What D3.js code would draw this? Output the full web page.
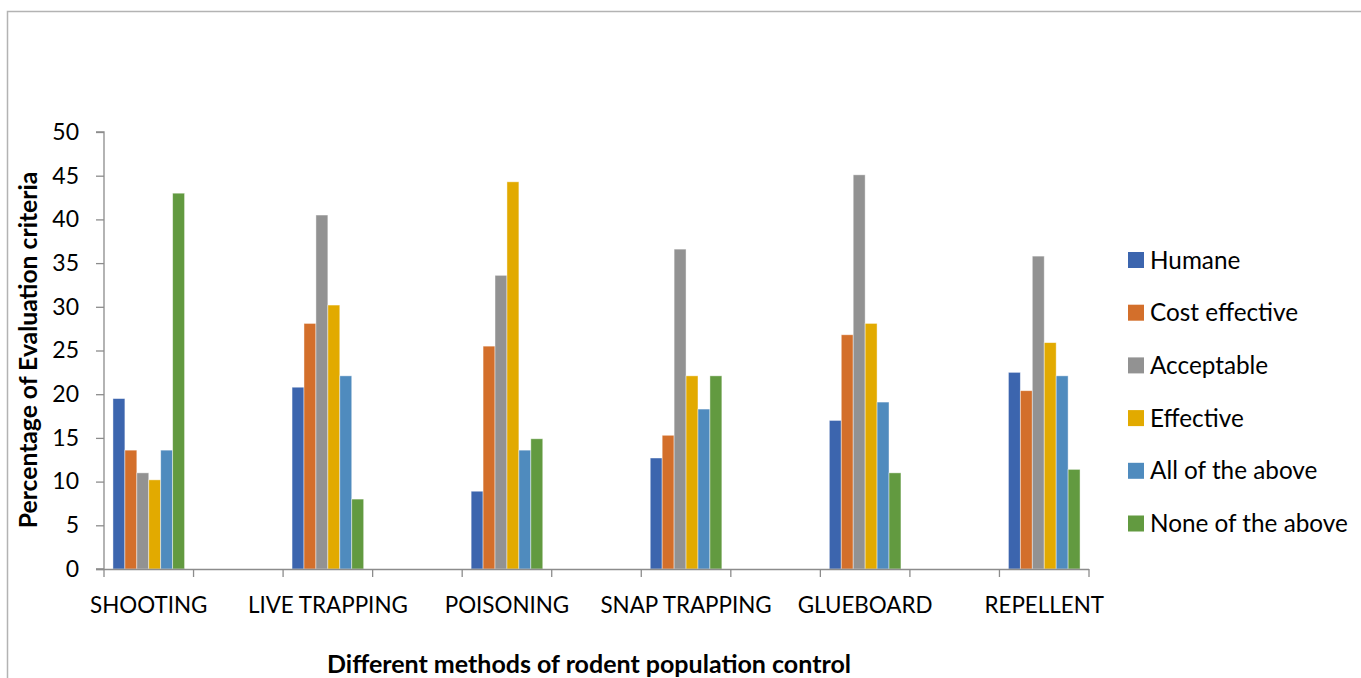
<!DOCTYPE html>
<html><head><meta charset="utf-8">
<script src="https://cdn.jsdelivr.net/npm/d3@7"></script>
<style>
html,body{margin:0;padding:0;background:#fff;}
svg{display:block;}
text{font-family:Lato,"Open Sans",sans-serif;fill:#000;}
</style></head>
<body>
<svg id="chart" width="1361" height="678"></svg>
<script>
// Category slots (Excel sheet had blank rows between methods)
const categories = ["SHOOTING", "", "LIVE TRAPPING", "", "POISONING", "", "SNAP TRAPPING", "", "GLUEBOARD", "", "REPELLENT"];
const seriesNames = ["Humane", "Cost effective", "Acceptable", "Effective", "All of the above", "None of the above"];
const seriesColors = ["#3C65AE", "#D36F2B", "#929292", "#E2AA00", "#4F8BBE", "#629A40"];
// values per category slot (null = blank row)
const humane     = [19.5, null, 20.8, null, 8.9,  null, 12.7, null, 17.0, null, 22.5];
const costEff    = [13.6, null, 28.1, null, 25.5, null, 15.3, null, 26.8, null, 20.4];
const acceptable = [11.0, null, 40.5, null, 33.6, null, 36.6, null, 45.1, null, 35.8];
const effective  = [10.2, null, 30.2, null, 44.3, null, 22.1, null, 28.1, null, 25.9];
const allAbove   = [13.6, null, 22.1, null, 13.6, null, 18.3, null, 19.1, null, 22.1];
const noneAbove  = [43.0, null, 8.0,  null, 14.9, null, 22.1, null, 11.0, null, 11.4];
const yTicks = [0, 5, 10, 15, 20, 25, 30, 35, 40, 45, 50];
const xTitle = "Different methods of rodent population control";
const yTitle = "Percentage of Evaluation criteria";

const seriesValues = [humane, costEff, acceptable, effective, allAbove, noneAbove];

const svg = d3.select("#chart");

// chart area frame
svg.append("path")
  .attr("d", "M7.5,678 L7.5,11.5 L1361,11.5")
  .attr("fill", "none").attr("stroke", "#b3b3b3").attr("stroke-width", 1.5);

const plot = {left: 104, right: 1089, top: 132, bottom: 569};

const x = d3.scaleBand().domain(d3.range(categories.length))
  .range([plot.left, plot.right]).paddingInner(0).paddingOuter(0);
const xs = d3.scaleBand().domain(d3.range(seriesNames.length))
  .range([0, x.bandwidth()]).paddingInner(0).paddingOuter(0.75);
const y = d3.scaleLinear().domain([0, 50]).range([plot.bottom, plot.top]);

// bars
const g = svg.append("g");
seriesValues.forEach((vals, si) => {
  g.selectAll(null)
    .data(vals.map((v, ci) => ({v, ci})).filter(d => d.v != null))
    .enter().append("rect")
    .attr("x", d => x(d.ci) + xs(si))
    .attr("width", xs.bandwidth())
    .attr("y", d => y(d.v))
    .attr("height", d => y(0) - y(d.v))
    .attr("fill", seriesColors[si])
    .attr("stroke", "rgba(255,255,255,0.55)")
    .attr("stroke-width", 0.8);
});

// Y axis
const yAxis = d3.axisLeft(y).tickValues(yTicks).tickSize(8).tickPadding(17).tickFormat(d3.format("d"));
const ya = svg.append("g").attr("transform", `translate(${plot.left},0)`).call(yAxis);
ya.select(".domain").attr("stroke", "#8c8c8c").attr("stroke-width", 1.3).attr("d", `M-8,${plot.bottom}H0V${plot.top}H-8`);
ya.selectAll(".tick line").attr("stroke", "#8c8c8c").attr("stroke-width", 1.3);
ya.selectAll(".tick text").style("font-size", "23px").style("font-family", "Lato").attr("fill", "#000");

// X axis (ticks at category boundaries)
const xa = svg.append("g").attr("transform", `translate(0,${plot.bottom})`);
xa.append("line").attr("x1", plot.left - 8).attr("x2", plot.right).attr("y1", 0.5).attr("y2", 0.5)
  .attr("stroke", "#8c8c8c").attr("stroke-width", 1.3);
const bounds = d3.range(categories.length).map(i => x(i)).concat([plot.right]);
xa.selectAll("line.tk").data(bounds).enter().append("line").attr("class", "tk")
  .attr("x1", d => d).attr("x2", d => d).attr("y1", 0).attr("y2", 8)
  .attr("stroke", "#8c8c8c").attr("stroke-width", 1.3);
const xAxis = d3.axisBottom(x).tickSize(0).tickPadding(0).tickFormat(i => categories[i]);
const xl = svg.append("g").attr("transform", `translate(0,${plot.bottom})`).call(xAxis);
xl.select(".domain").remove();
xl.selectAll(".tick text").attr("dy", null).attr("y", 44)
  .style("font-size", "22.4px").style("font-family", "Lato").attr("fill", "#000");

// axis titles
svg.append("text").attr("x", 589).attr("y", 673).attr("text-anchor", "middle")
  .style("font-size", "25px").style("font-weight", "bold").text(xTitle);
svg.append("text").attr("transform", "translate(37,350) rotate(-90)").attr("text-anchor", "middle")
  .style("font-size", "24.7px").style("font-weight", "bold").text(yTitle);

// legend
const legend = svg.append("g").attr("transform", "translate(1128,260)");
const lg = legend.selectAll("g").data(seriesNames).enter().append("g")
  .attr("transform", (d, i) => `translate(0,${i * 52.7})`);
lg.append("rect").attr("x", 0).attr("y", -8).attr("width", 16).attr("height", 16)
  .attr("fill", (d, i) => seriesColors[i]);
lg.append("text").attr("x", 22).attr("y", 0).attr("dy", "0.35em")
  .style("font-size", "24.3px").text(d => d);
</script>
</body></html>
